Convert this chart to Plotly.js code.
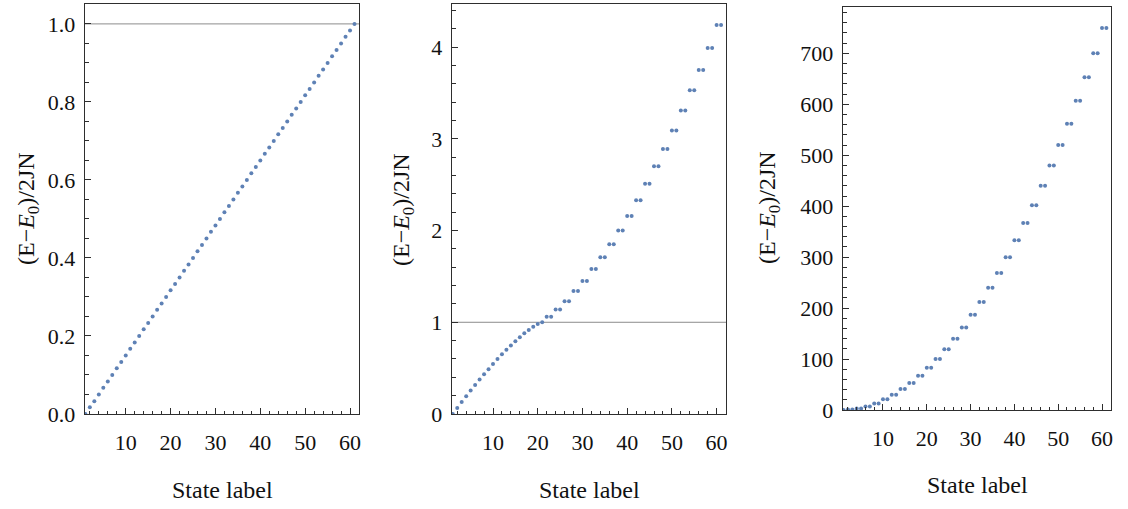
<!DOCTYPE html>
<html><head><meta charset="utf-8">
<script src="https://cdn.plot.ly/plotly-3.0.1.min.js"></script>
<style>html,body{margin:0;padding:0;background:#fff}#chart{width:1128px;height:509px}</style>
</head><body><div id="chart"></div>
<script>
const stateLabels = [1,2,3,4,5,6,7,8,9,10,11,12,13,14,15,16,17,18,19,20,
  21,22,23,24,25,26,27,28,29,30,31,32,33,34,35,36,37,38,39,40,
  41,42,43,44,45,46,47,48,49,50,51,52,53,54,55,56,57,58,59,60,61];

const energyPanel1 = [0,0.017,0.033,0.050,0.067,0.083,0.100,0.117,0.133,0.150,
  0.167,0.183,0.200,0.217,0.233,0.250,0.267,0.283,0.300,0.317,
  0.333,0.350,0.367,0.383,0.400,0.417,0.433,0.450,0.467,0.483,
  0.500,0.517,0.533,0.550,0.567,0.583,0.600,0.617,0.633,0.650,
  0.667,0.683,0.700,0.717,0.733,0.750,0.767,0.783,0.800,0.817,
  0.833,0.850,0.867,0.883,0.900,0.917,0.933,0.950,0.967,0.983,1.000];

const energyPanel2 = [0,0.065,0.131,0.193,0.257,0.316,0.375,0.433,0.488,0.545,0.600,
  0.651,0.701,0.748,0.793,0.836,0.880,0.916,0.950,0.982,1.000,
  1.06,1.06,1.14,1.14,1.23,1.23,1.34,1.34,1.45,1.45,1.58,1.58,1.71,1.71,1.85,1.85,
  2.00,2.00,2.16,2.16,2.33,2.33,2.51,2.51,2.70,2.70,2.89,2.89,3.09,3.09,
  3.31,3.31,3.53,3.53,3.75,3.75,3.99,3.99,4.24,4.24];

const energyPanel3 = [0,1,1,3,3,7,7,13,13,21,21,30,30,41,41,53,53,67,67,83,83,
  100,100,119,119,140,140,162,162,187,187,212,212,240,240,269,269,300,300,
  333,333,367,367,402,402,440,440,480,480,520,520,562,562,607,607,653,653,700,700,750,750];

const referenceLevel = 1;
const yTitle = '(E\u2212<i>E</i><sub>0</sub>)/2JN';
const xTitle = 'State label';

const FONT = '"Liberation Serif", "Times New Roman", serif';
const dotColor = '#5E81B5';
const frameColor = '#2e2e2e';

function trace(y, xa, ya) {
  return {x: stateLabels, y: y, xaxis: xa, yaxis: ya, type: 'scatter', mode: 'markers',
    marker: {size: 4, color: dotColor}, hoverinfo: 'x+y'};
}

function xAxis(domain, range, anchor) {
  return {domain: domain, range: range, anchor: anchor, showgrid: false, zeroline: false,
    showline: true, mirror: true, linecolor: frameColor, linewidth: 1.4,
    ticks: 'inside', ticklen: 6, tickwidth: 1, tickcolor: frameColor,
    tickmode: 'linear', tick0: 0, dtick: 10, ticklabelstandoff: 8,
    minor: {ticks: 'inside', ticklen: 3, tickwidth: 1, tickcolor: frameColor, tick0: 0, dtick: 2, showgrid: false},
    tickfont: {family: FONT, size: 22, color: '#111'}};
}
function yAxis(domain, range, anchor, dtick, mdtick, fmt) {
  return {domain: domain, range: range, anchor: anchor, showgrid: false, zeroline: false,
    showline: true, mirror: true, linecolor: frameColor, linewidth: 1.4,
    ticks: 'inside', ticklen: 6, tickwidth: 1, tickcolor: frameColor,
    tickmode: 'linear', tick0: 0, dtick: dtick, tickformat: fmt, ticklabelstandoff: 4,
    minor: {ticks: 'inside', ticklen: 3.5, tickwidth: 1, tickcolor: frameColor, tick0: 0, dtick: mdtick, showgrid: false},
    tickfont: {family: FONT, size: 22, color: '#111'}};
}

const data = [trace(energyPanel1, 'x', 'y'), trace(energyPanel2, 'x2', 'y2'), trace(energyPanel3, 'x3', 'y3')];

const W = 1128, H = 509;
const fx = p => p / W, fy = p => 1 - p / H;

function titleAnn(text, x, y, angle) {
  return {text: text, xref: 'paper', yref: 'paper', x: x, y: y, xanchor: 'center', yanchor: 'middle',
    showarrow: false, textangle: angle, font: {family: FONT, size: 24, color: '#111'}};
}

const layout = {
  width: W, height: H, margin: {l: 0, r: 0, t: 0, b: 0},
  paper_bgcolor: '#fff', plot_bgcolor: '#fff', showlegend: false,
  font: {family: FONT, size: 22, color: '#111'},
  xaxis: xAxis([fx(85), fx(359)], [0.92, 62.0], 'y'),
  yaxis: yAxis([fy(414), fy(4)], [0, 1.051], 'x', 0.2, 0.05, '.1f'),
  xaxis2: xAxis([fx(452), fx(726)], [0.83, 62.1], 'y2'),
  yaxis2: yAxis([fy(414), fy(4)], [0, 4.47], 'x2', 1, 0.2, 'd'),
  xaxis3: xAxis([fx(843), fx(1111)], [0.87, 62.05], 'y3'),
  yaxis3: yAxis([fy(410), fy(7)], [0, 791], 'x3', 100, 20, 'd'),
  shapes: [
    {type: 'line', xref: 'x domain', yref: 'y', x0: 0, x1: 1, y0: referenceLevel, y1: referenceLevel,
     line: {color: '#8c8c8c', width: 1}, layer: 'below'},
    {type: 'line', xref: 'x2 domain', yref: 'y2', x0: 0, x1: 1, y0: referenceLevel, y1: referenceLevel,
     line: {color: '#8c8c8c', width: 1}, layer: 'below'}
  ],
  annotations: [
    titleAnn(yTitle, fx(28), fy(209), -90),
    titleAnn(yTitle, fx(403), fy(209), -90),
    titleAnn(yTitle, fx(769), fy(208), -90),
    titleAnn(xTitle, fx(222), fy(490), 0),
    titleAnn(xTitle, fx(589), fy(490), 0),
    titleAnn(xTitle, fx(977), fy(485), 0)
  ]
};

Plotly.newPlot('chart', data, layout, {displayModeBar: false, staticPlot: true});
</script>
</body></html>
